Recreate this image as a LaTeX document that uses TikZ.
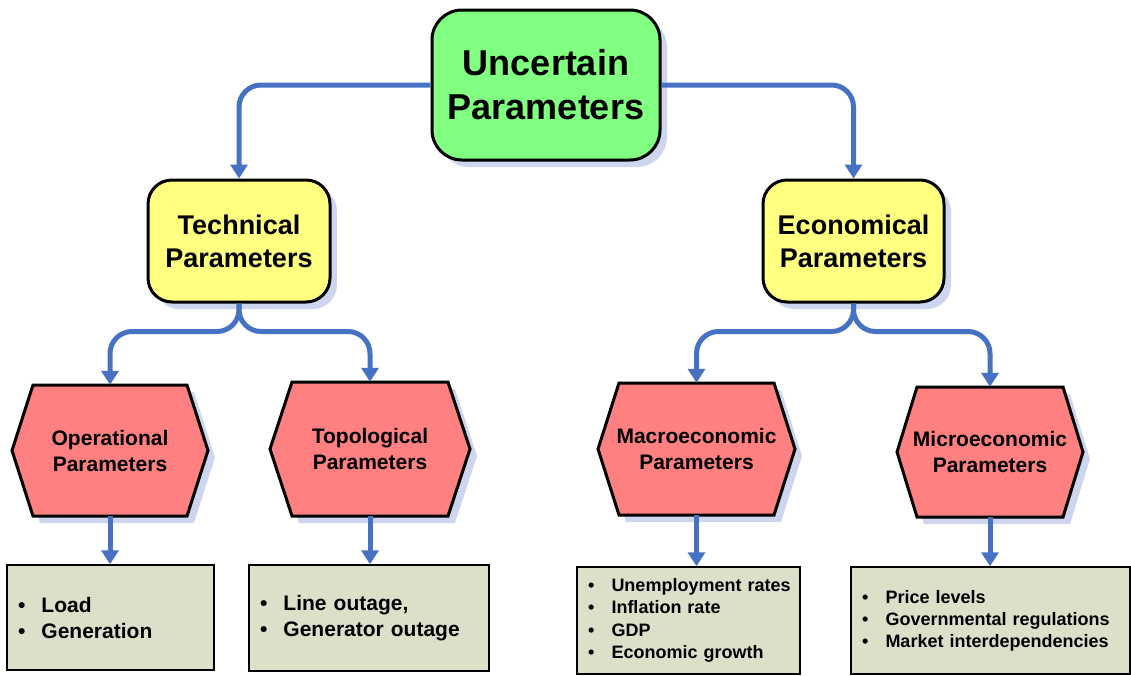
\documentclass[tikz,border=0pt]{standalone}
\usepackage{fontspec}
\setmainfont{Liberation Sans}
\usetikzlibrary{arrows.meta,shadows,calc}
\definecolor{conncol}{RGB}{70,114,196}
\definecolor{greenc}{RGB}{128,255,128}
\definecolor{yellowc}{RGB}{255,255,128}
\definecolor{redc}{RGB}{255,128,128}
\definecolor{boxc}{RGB}{221,224,201}
\definecolor{shadowc}{RGB}{205,214,238}
\newcommand\bl[1]{\makebox[23.5pt][l]{\textbullet}\mbox{#1}}
\newcommand\hexa[7]{% name, cx, cy, halfw, halfh, inset, text
  \fill[shadowc, shift={(#2+7,#3+7)}] (-#4,0) -- (-#4+#6,#5) -- (#4-#6,#5) -- (#4,0) -- (#4-#6,-#5) -- (-#4+#6,-#5) -- cycle;
  \filldraw[hexstyle, shift={(#2,#3)}] (-#4,0) -- (-#4+#6,#5) -- (#4-#6,#5) -- (#4,0) -- (#4-#6,-#5) -- (-#4+#6,-#5) -- cycle;
  \node[hextext, minimum width=2*#4, minimum height=2*#5] (#1) at (#2,#3) {#7};
}
\tikzset{
  rbox/.style={draw=black, line width=3pt, align=center, font=\bfseries, inner sep=0pt,
    drop shadow={shadow xshift=7pt, shadow yshift=-7pt, fill=shadowc, opacity=1}},
  hexstyle/.style={fill=redc, draw=black, line width=3pt, line join=miter},
  hextext/.style={inner sep=0pt, align=center, font=\fontsize{21}{26}\selectfont\bfseries},
  listbox/.style={draw=black, line width=1.5pt, fill=boxc, inner xsep=11pt, inner ysep=0pt, align=left},
  conn/.style={draw=conncol, line width=5pt, rounded corners=22pt, -{Triangle[length=14pt,width=17pt]}}
}
\begin{document}
\begin{tikzpicture}[x=1pt,y=-1pt]
\useasboundingbox (0,0) rectangle (1131,675);
% top level
\node[rbox, fill=greenc, rounded corners=30pt, minimum width=228, minimum height=150,
  font=\fontsize{36}{44}\selectfont\bfseries] (root) at (546,85) {Uncertain\\Parameters};
\node[rbox, fill=yellowc, rounded corners=24pt, minimum width=182, minimum height=122,
  font=\fontsize{27}{33}\selectfont\bfseries] (tech) at (239,241) {Technical\\Parameters};
\node[rbox, fill=yellowc, rounded corners=24pt, minimum width=181, minimum height=122,
  font=\fontsize{27}{33}\selectfont\bfseries] (econ) at (853.5,241) {Economical\\Parameters};
% hexagons
\hexa{op}{110}{450.5}{98}{65.5}{21}{Operational\\Parameters}
\hexa{topo}{370}{449}{100}{67}{22}{Topological\\Parameters}
\hexa{macro}{696.5}{449}{98.5}{66}{21}{Macroeconomic\\Parameters}
\hexa{micro}{990}{452}{93}{65}{20}{Microeconomic\\Parameters}
% lists
\node[listbox, minimum height=105, text width=185, font=\fontsize{21}{26}\selectfont\bfseries] (l1) at (110.5,617.5)
  {\bl{Load}\\\bl{Generation}};
\node[listbox, minimum height=106, text width=218, font=\fontsize{21}{26}\selectfont\bfseries] (l2) at (369,618)
  {\bl{Line outage,}\\\bl{Generator outage}};
\node[listbox, minimum height=107, text width=201, font=\fontsize{18}{22.5}\selectfont\bfseries] (l3) at (688.5,620.5)
  {\bl{Unemployment rates}\\\bl{Inflation rate}\\\bl{GDP}\\\bl{Economic growth}};
\node[listbox, minimum height=107, text width=257, font=\fontsize{18}{22}\selectfont\bfseries] (l4) at (990.5,620.5)
  {\bl{Price levels}\\\bl{Governmental regulations}\\\bl{Market interdependencies}};
% connectors
\draw[conn] (root.west) -| (tech.north);
\draw[conn] (root.east) -| (econ.north);
\draw[conn] (tech.south) -- ++(0,28) -| (op.north);
\draw[conn] (tech.south) -- ++(0,28) -| (topo.north);
\draw[conn] (econ.south) -- ++(0,28) -| (macro.north);
\draw[conn] (econ.south) -- ++(0,28) -| (micro.north);
\draw[conn] (op.south) -- (op.south |- l1.north);
\draw[conn] (topo.south) -- (topo.south |- l2.north);
\draw[conn] (macro.south) -- (macro.south |- l3.north);
\draw[conn] (micro.south) -- (micro.south |- l4.north);
\end{tikzpicture}
\end{document}
